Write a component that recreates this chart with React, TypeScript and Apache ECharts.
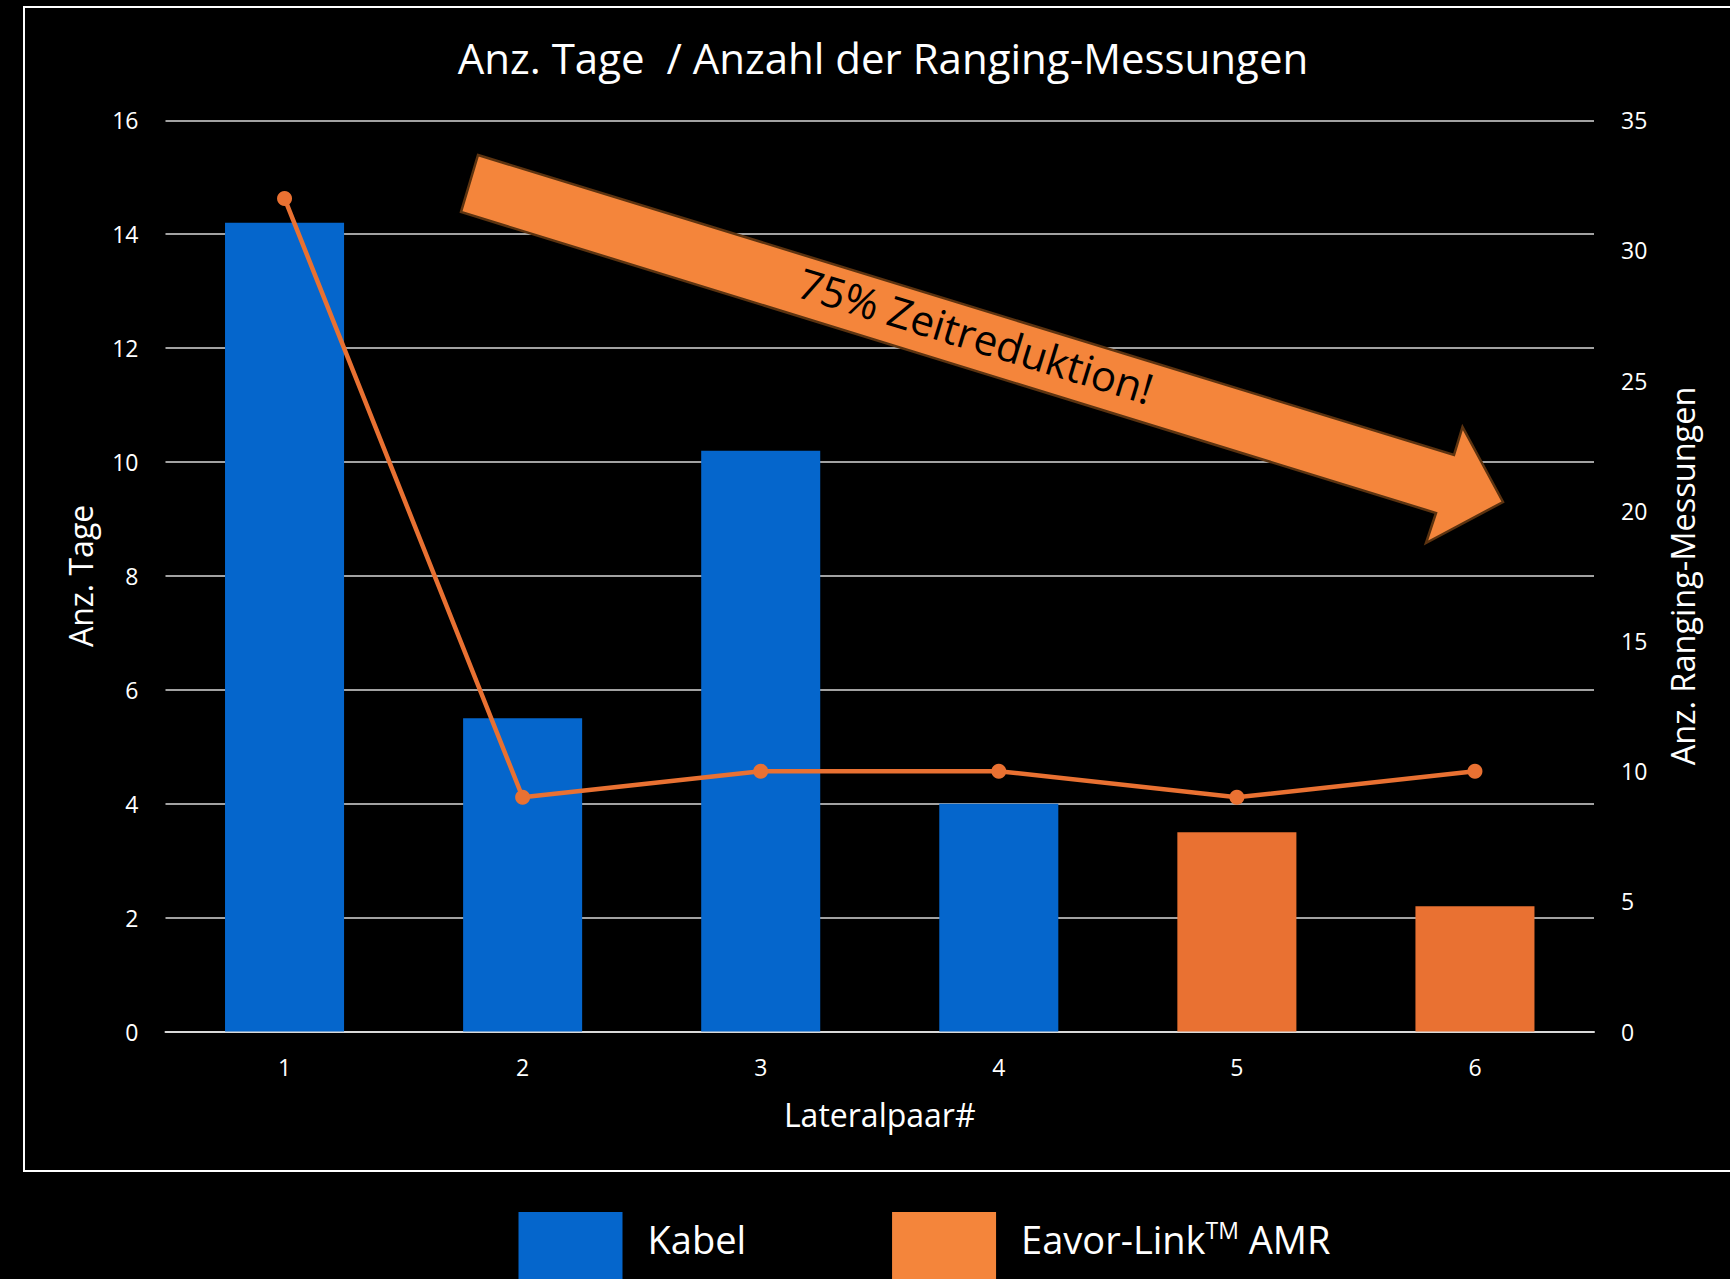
import React, { useEffect, useRef } from "react";
import * as echarts from "echarts";

const categories = ["1", "2", "3", "4", "5", "6"];
const kabelDays = [14.2, 5.5, 10.2, 4, null, null];
const eavorDays = [null, null, null, null, 3.5, 2.2];
const rangingCounts = [32, 9, 10, 10, 9, 10];

const titleText = "Anz. Tage  / Anzahl der Ranging-Messungen";
const leftAxisName = "Anz. Tage";
const rightAxisName = "Anz. Ranging-Messungen";
const xAxisName = "Lateralpaar#";
const seriesKabel = "Kabel";
const seriesEavor = "Eavor-Link™ AMR";
const lineName = "Anzahl der Ranging-Messungen";
const arrowText = "75% Zeitreduktion!";

const FONT = "'Open Sans', 'Noto Sans', sans-serif";
const BLUE = "#0566CC";
const ORANGE = "#E97132";
const ORANGE_LIGHT = "#F4853B";

export default function App() {
  const ref = useRef<HTMLDivElement>(null);
  useEffect(() => {
    document.body.style.margin = "0";
    document.body.style.background = "#000";
    const chart = echarts.init(ref.current!, null, { renderer: "svg" });
    const option: any = {
      animation: false,
      backgroundColor: "#000",
      textStyle: { fontFamily: FONT },
      title: {
        text: titleText,
        left: 878,
        textAlign: "center",
        top: 31,
        textStyle: { color: "#fff", fontSize: 42, fontWeight: "normal", fontFamily: FONT },
      },
      grid: { left: 165.5, right: 136, top: 120.3, bottom: 247.4, containLabel: false },
      legend: {
        left: 513.5,
        top: 1207,
        itemWidth: 104,
        itemHeight: 84,
        itemGap: 146,
        icon: "rect",
        data: [
          { name: seriesKabel, itemStyle: { color: BLUE } },
          { name: seriesEavor, itemStyle: { color: ORANGE_LIGHT } },
        ],
        formatter: (n: string) => (n === seriesEavor ? "Eavor-Link{sup|TM} AMR" : n),
        textStyle: {
          color: "#fff",
          fontSize: 38,
          fontFamily: FONT,
          padding: [0, 0, 30, 20],
          rich: {
            sup: { fontSize: 23, color: "#fff", fontFamily: FONT, padding: [0, 0, 19, 0] },
          },
        },
      },
      xAxis: {
        type: "category",
        data: categories,
        name: xAxisName,
        nameLocation: "middle",
        nameGap: 67,
        nameTextStyle: { color: "#fff", fontSize: 32, fontFamily: FONT },
        axisLine: { show: true, lineStyle: { color: "#d9d9d9", width: 2 } },
        axisTick: { show: false },
        axisLabel: { color: "#fff", fontSize: 23, margin: 24, fontFamily: FONT },
      },
      yAxis: [
        {
          type: "value",
          min: 0,
          max: 16,
          interval: 2,
          name: leftAxisName,
          nameLocation: "middle",
          nameRotate: 90,
          nameGap: 69,
          nameTextStyle: { color: "#fff", fontSize: 32, fontFamily: FONT },
          axisLine: { show: false },
          axisTick: { show: false },
          axisLabel: { color: "#fff", fontSize: 23, margin: 27, fontFamily: FONT },
          splitLine: { show: true, lineStyle: { color: "#d9d9d9", width: 1.5 } },
        },
        {
          type: "value",
          min: 0,
          max: 35,
          interval: 5,
          position: "right",
          name: rightAxisName,
          nameLocation: "middle",
          nameRotate: 90,
          nameGap: 72,
          nameTextStyle: { color: "#fff", fontSize: 32.5, fontFamily: FONT },
          axisLine: { show: false },
          axisTick: { show: false },
          axisLabel: { color: "#fff", fontSize: 23, margin: 27, fontFamily: FONT },
          splitLine: { show: false },
        },
      ],
      series: [
        {
          name: seriesKabel,
          type: "bar",
          stack: "days",
          barWidth: "50%",
          data: kabelDays,
          itemStyle: { color: BLUE },
          z: 2,
        },
        {
          name: seriesEavor,
          type: "bar",
          stack: "days",
          barWidth: "50%",
          data: eavorDays,
          itemStyle: { color: ORANGE },
          z: 2,
        },
        {
          name: lineName,
          type: "line",
          yAxisIndex: 1,
          data: rangingCounts,
          symbol: "circle",
          symbolSize: 15,
          lineStyle: { color: ORANGE, width: 4.5 },
          itemStyle: { color: ORANGE },
          z: 3,
        },
      ],
      graphic: [
        {
          type: "rect",
          shape: { x: 24, y: 7, width: 1730, height: 1164 },
          style: { fill: "none", stroke: "#fff", lineWidth: 2 },
          z: 0,
          silent: true,
        },
        {
          type: "polygon",
          shape: {
            points: [
              [478, 155],
              [1454, 455],
              [1462.5, 427],
              [1503, 502],
              [1426, 543],
              [1436, 513],
              [461, 212],
            ],
          },
          style: { fill: ORANGE_LIGHT, stroke: "#5C3310", lineWidth: 2.5 },
          z: 10,
        },
        {
          type: "text",
          x: 976,
          y: 335,
          rotation: (-17.1 * Math.PI) / 180,
          style: {
            text: arrowText,
            fill: "#000",
            fontSize: 42,
            fontFamily: FONT,
            align: "center",
            verticalAlign: "middle",
          },
          z: 11,
        },
      ],
    };
    chart.setOption(option);
    return () => chart.dispose();
  }, []);
  return (
    <div
      ref={ref}
      style={{ position: "absolute", left: 0, top: 0, width: 1730, height: 1279 }}
    />
  );
}
